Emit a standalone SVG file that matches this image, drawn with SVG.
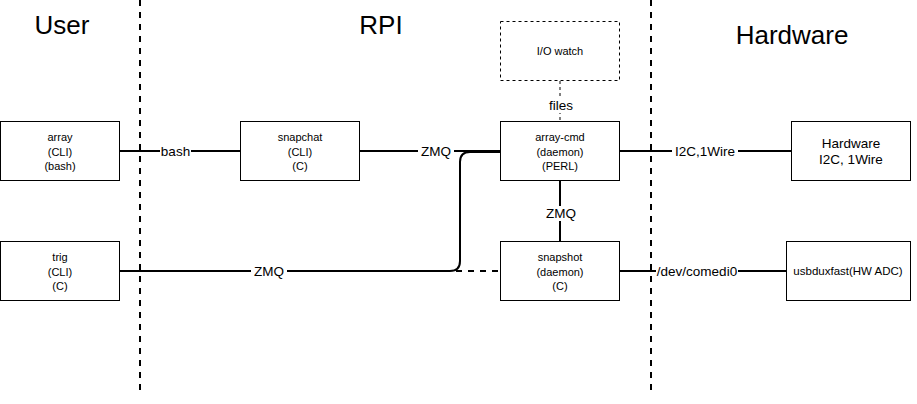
<svg xmlns="http://www.w3.org/2000/svg" width="917" height="404" viewBox="0 0 917 404">
<style>
.box{fill:#fff;stroke:#000;stroke-width:1}
.dbox{fill:#fff;stroke:#000;stroke-width:1;stroke-dasharray:3,3}
.t{font-family:"Liberation Sans",Arial,sans-serif;font-size:11px;fill:#000;text-anchor:middle}
.title{font-family:"Liberation Sans",Arial,sans-serif;font-size:26px;fill:#000;text-anchor:middle}
.lbl{font-family:"Liberation Sans",Arial,sans-serif;font-size:13.5px;fill:#000;text-anchor:middle}
.lb{fill:#fff}
.c{fill:none;stroke:#000;stroke-width:2}
.cd{fill:none;stroke:#000;stroke-width:2;stroke-dasharray:6,6}
.cdt{fill:none;stroke:#000;stroke-width:1;stroke-dasharray:3,3}
.sep{fill:none;stroke:#000;stroke-width:2;stroke-dasharray:6,6}
</style>
<rect width="917" height="404" fill="#fff"/>
<g id="separators">
<line class="sep" x1="140" y1="0" x2="140" y2="392"/>
<line class="sep" x1="651" y1="0" x2="651" y2="392"/>
</g>
<g id="titles">
<text class="title" x="62" y="34">User</text>
<text class="title" x="381" y="34">RPI</text>
<text class="title" x="792" y="44">Hardware</text>
</g>
<g id="connectors">
<line class="c" x1="120" y1="151" x2="240" y2="151"/>
<line class="c" x1="360" y1="151" x2="500" y2="151"/>
<line class="cd" x1="120" y1="271" x2="500" y2="271"/>
<path class="c" d="M120,271 H450 Q460,271 460,261 V162 Q460,152 470,152 H500"/>
<line class="c" x1="560" y1="181" x2="560" y2="241"/>
<line class="cdt" x1="560" y1="81" x2="560" y2="121"/>
<line class="c" x1="620" y1="151" x2="791" y2="151"/>
<line class="c" x1="620" y1="271" x2="786" y2="271"/>
<rect class="lb" x="160" y="144" width="31" height="15"/>
<text class="lbl" x="175.5" y="156">bash</text>
<rect class="lb" x="418" y="144" width="36" height="15"/>
<text class="lbl" x="436" y="156">ZMQ</text>
<rect class="lb" x="251" y="264" width="36" height="15"/>
<text class="lbl" x="269" y="276">ZMQ</text>
<rect class="lb" x="543" y="206" width="36" height="15"/>
<text class="lbl" x="561" y="218">ZMQ</text>
<rect class="lb" x="546" y="98" width="30" height="15"/>
<text class="lbl" x="561" y="110">files</text>
<rect class="lb" x="672" y="144" width="66" height="15"/>
<text class="lbl" x="705" y="156">I2C,1Wire</text>
<rect class="lb" x="656" y="264" width="82" height="15"/>
<text class="lbl" x="697" y="276">/dev/comedi0</text>
</g>
<g id="node-array">
<rect class="box" x="0.5" y="121.5" width="119" height="59"/>
<text class="t" x="60" y="141">array</text>
<text class="t" x="60" y="155.5">(CLI)</text>
<text class="t" x="60" y="170">(bash)</text>
</g>
<g id="node-snapchat">
<rect class="box" x="240.5" y="121.5" width="119" height="59"/>
<text class="t" x="300" y="141">snapchat</text>
<text class="t" x="300" y="155.5">(CLI)</text>
<text class="t" x="300" y="170">(C)</text>
</g>
<g id="node-iowatch">
<rect class="dbox" x="500.5" y="21.5" width="119" height="59"/>
<text class="t" x="560" y="55">I/O watch</text>
</g>
<g id="node-arraycmd">
<rect class="box" x="500.5" y="121.5" width="119" height="59"/>
<text class="t" x="560" y="141">array-cmd</text>
<text class="t" x="560" y="155.5">(daemon)</text>
<text class="t" x="560" y="170">(PERL)</text>
</g>
<g id="node-hardware">
<rect class="box" x="791.5" y="121.5" width="119" height="59"/>
<text class="t" x="851" y="148" style="font-size:13.5px">Hardware</text>
<text class="t" x="851" y="164" style="font-size:13.5px">I2C, 1Wire</text>
</g>
<g id="node-trig">
<rect class="box" x="0.5" y="241.5" width="119" height="59"/>
<text class="t" x="60" y="261">trig</text>
<text class="t" x="60" y="275.5">(CLI)</text>
<text class="t" x="60" y="290">(C)</text>
</g>
<g id="node-snapshot">
<rect class="box" x="500.5" y="241.5" width="119" height="59"/>
<text class="t" x="560" y="261">snapshot</text>
<text class="t" x="560" y="275.5">(daemon)</text>
<text class="t" x="560" y="290">(C)</text>
</g>
<g id="node-usbduxfast">
<rect class="box" x="786.5" y="241.5" width="124" height="59"/>
<text class="t" x="848" y="275" style="font-size:11.5px">usbduxfast(HW ADC)</text>
</g>
</svg>
